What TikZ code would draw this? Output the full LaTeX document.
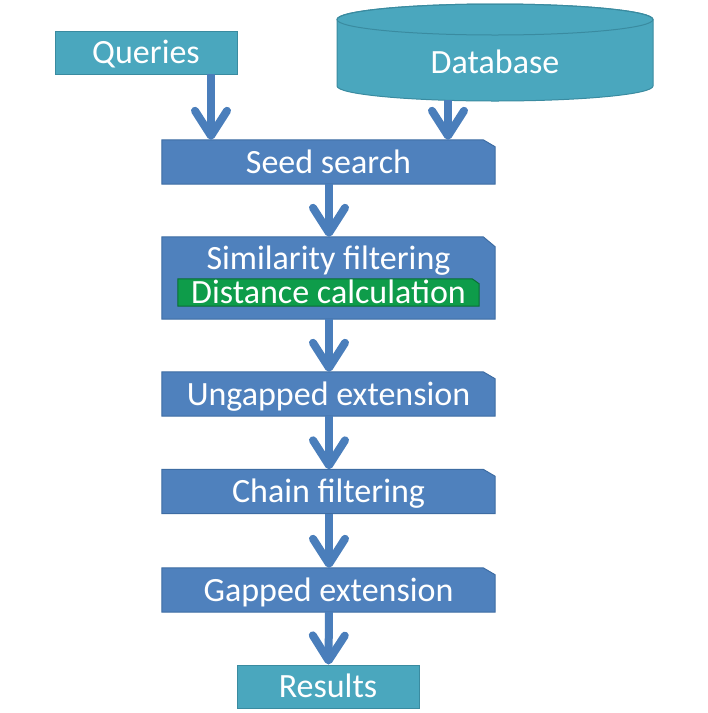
\documentclass[tikz,border=0pt]{standalone}
\usepackage{fontspec}
\setmainfont{Carlito}
\usetikzlibrary{arrows.meta,backgrounds}
\definecolor{boxblue}{HTML}{4F81BD}
\definecolor{boxblueline}{HTML}{3D6CA3}
\definecolor{teal}{HTML}{4AA7BE}
\definecolor{tealline}{HTML}{3A8BA0}
\definecolor{grn}{HTML}{0E9C4A}
\definecolor{grnline}{HTML}{0A6E34}
\definecolor{arrowblue}{HTML}{4A7EBB}
\tikzset{
  txt/.style={text=white, font=\fontsize{34}{40}\selectfont, inner sep=0pt, text height=22pt, text depth=0pt},
  stepbox/.style={txt, rectangle, minimum width=333pt, minimum height=44pt},
  tealbox/.style={txt, rectangle, minimum width=182pt, minimum height=43pt, fill=teal, draw=tealline, line width=1pt},
  flow/.style={draw=arrowblue, line width=8pt, -{Straight Barb[length=25pt, width=32pt, round]}},
}
\newcommand{\snipshape}[5]{%
  \filldraw[fill=#4, draw=#5, line width=1pt] (#1.south west) -- (#1.north west) -- ([xshift=-#2]#1.north east) -- ([yshift=-#3]#1.north east) -- (#1.south east) -- cycle;}
\begin{document}
\begin{tikzpicture}[x=1pt,y=1pt]
\useasboundingbox (0,0) rectangle (708,-713);
% database cylinder
\filldraw[fill=teal, draw=tealline, line width=1pt] (337,-19.5) -- (337,-86) arc (180:360:158pt and 15pt) -- (653,-19.5) arc (0:180:158pt and 15.5pt) -- cycle;
\draw[tealline, line width=1pt] (495,-19.5) ellipse (158pt and 15.5pt);
\node[txt] (db) at (495,-62) {Database};
\coordinate (dbout) at (448,-100);
% queries
\node[tealbox] (queries) at (146,-52.5) {Queries};
\coordinate (qout) at (211,-74);
% steps
\node[stepbox] (seed) at (328.5,-162) {Seed search};
\node[stepbox, minimum height=82pt] (sim) at (328.5,-278) {};
\node[txt] (simlabel) at (328.5,-258.5) {Similarity filtering};
\node[txt, rectangle, minimum width=301pt, minimum height=27pt] (dist) at (328.5,-292.5) {Distance calculation};
\node[stepbox] (ungap) at (328.5,-394) {Ungapped extension};
\node[stepbox] (chain) at (328.5,-491.5) {Chain filtering};
\node[stepbox] (gap) at (328.5,-590) {Gapped extension};
\node[tealbox] (results) at (328,-686.5) {Results};
\begin{scope}[on background layer]
\snipshape{seed}{12pt}{7pt}{boxblue}{boxblueline}
\snipshape{sim}{12pt}{10pt}{boxblue}{boxblueline}
\snipshape{ungap}{12pt}{7pt}{boxblue}{boxblueline}
\snipshape{chain}{12pt}{7pt}{boxblue}{boxblueline}
\snipshape{gap}{12pt}{7pt}{boxblue}{boxblueline}
\end{scope}
\begin{scope}[on background layer]
\snipshape{dist}{7pt}{5pt}{grn}{grnline}
\end{scope}
% connectors
\draw[flow] (qout) -- (qout |- seed.north);
\draw[flow] (dbout) -- (dbout |- seed.north);
\draw[flow] ([xshift=0.5pt]seed.south) -- ([xshift=0.5pt]sim.north);
\draw[flow] ([xshift=0.5pt]sim.south) -- ([xshift=0.5pt]ungap.north);
\draw[flow] ([xshift=0.5pt]ungap.south) -- ([xshift=0.5pt]chain.north);
\draw[flow] ([xshift=0.5pt]chain.south) -- ([xshift=0.5pt]gap.north);
\draw[flow] ([xshift=0.5pt]gap.south) -- ([xshift=0.5pt]results.north);
\end{tikzpicture}
\end{document}
